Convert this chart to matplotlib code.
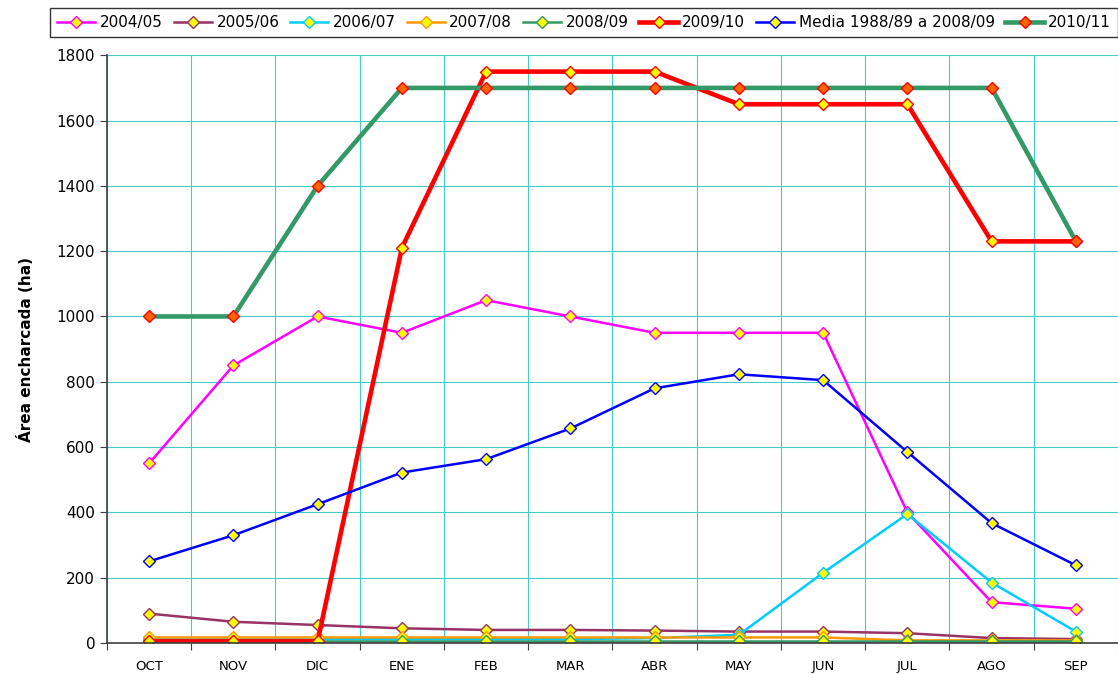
import matplotlib
matplotlib.use('Agg')
import matplotlib.pyplot as plt
from matplotlib.ticker import FixedLocator, NullFormatter, FixedFormatter

# Months (hydrological year)
months = ['OCT', 'NOV', 'DIC', 'ENE', 'FEB', 'MAR', 'ABR', 'MAY', 'JUN', 'JUL', 'AGO', 'SEP']

# Flooded area (ha) per season
s2004_05 = [550, 850, 1000, 950, 1050, 1000, 950, 950, 950, 400, 125, 105]
s2005_06 = [90, 65, 55, 45, 40, 40, 38, 35, 35, 30, 15, 12]
s2006_07 = [12, 12, 12, 12, 12, 12, 15, 25, 215, 395, 185, 35]
s2007_08 = [17, 17, 17, 17, 17, 17, 17, 17, 17, 8, 8, 8]
s2008_09 = [5, 5, 5, 5, 5, 5, 5, 5, 5, 5, 5, 5]
s2009_10 = [5, 5, 5, 1210, 1750, 1750, 1750, 1650, 1650, 1650, 1230, 1230]
media = [250, 330, 425, 522, 563, 657, 780, 823, 805, 585, 367, 238]
s2010_11 = [1000, 1000, 1400, 1700, 1700, 1700, 1700, 1700, 1700, 1700, 1700, 1230]

series = [
    ('2004/05', s2004_05, '#FF00FF', 1.8, '#FFFF00', '#FF00FF'),
    ('2005/06', s2005_06, '#993366', 1.8, '#FFFF00', '#993366'),
    ('2006/07', s2006_07, '#00CCFF', 1.8, '#FFFF00', '#00CCFF'),
    ('2007/08', s2007_08, '#FF9900', 1.8, '#FFFF00', '#FF9900'),
    ('2008/09', s2008_09, '#339966', 1.8, '#FFFF00', '#339966'),
    ('2009/10', s2009_10, '#FF0000', 3.3, '#FFFF00', '#FF0000'),
    ('Media 1988/89 a 2008/09', media, '#0000FF', 1.8, '#FFFF00', '#0000FF'),
    ('2010/11', s2010_11, '#339966', 3.3, '#FF6600', '#FF0000'),
]

fig = plt.figure(figsize=(11.18, 6.74), dpi=100)
ax = fig.add_axes([0.0957, 0.046, 0.9043, 0.872])

x = list(range(len(months)))
for label, vals, color, lw, face, edge in series:
    ax.plot(x, vals, color=color, lw=lw, marker='D', markersize=6,
            markerfacecolor=face, markeredgecolor=edge, markeredgewidth=1.0,
            label=label)

ax.set_xlim(-0.5, 11.5)
ax.set_ylim(0, 1800)
ax.set_yticks(range(0, 1801, 200))
ax.tick_params(axis='y', labelsize=11, length=5, color='#404040')

# x ticks at category boundaries, labels centred
ax.xaxis.set_major_locator(FixedLocator([i - 0.5 for i in range(13)]))
ax.xaxis.set_major_formatter(NullFormatter())
ax.xaxis.set_minor_locator(FixedLocator(x))
ax.xaxis.set_minor_formatter(FixedFormatter(months))
ax.tick_params(axis='x', which='major', length=5, color='#404040')
ax.tick_params(axis='x', which='minor', length=0, labelsize=9.5, pad=12)

ax.grid(True, which='major', color='#44CCCC', lw=0.8)
ax.set_axisbelow(True)
for s in ['top', 'right']:
    ax.spines[s].set_visible(False)
for s in ['left', 'bottom']:
    ax.spines[s].set_color('#404040')
    ax.spines[s].set_linewidth(1.2)

ax.set_ylabel('Área encharcada (ha)', fontsize=11, fontweight='bold', labelpad=16)

leg = fig.legend(loc='upper right', bbox_to_anchor=(1.0, 0.988), ncol=8, fontsize=11,
                 frameon=True, fancybox=False, edgecolor='black', handlelength=2.5,
                 handletextpad=0.3, columnspacing=0.7, borderpad=0.45, borderaxespad=0.0)
leg.get_frame().set_linewidth(1.0)

plt.savefig('out.png', dpi=100)
